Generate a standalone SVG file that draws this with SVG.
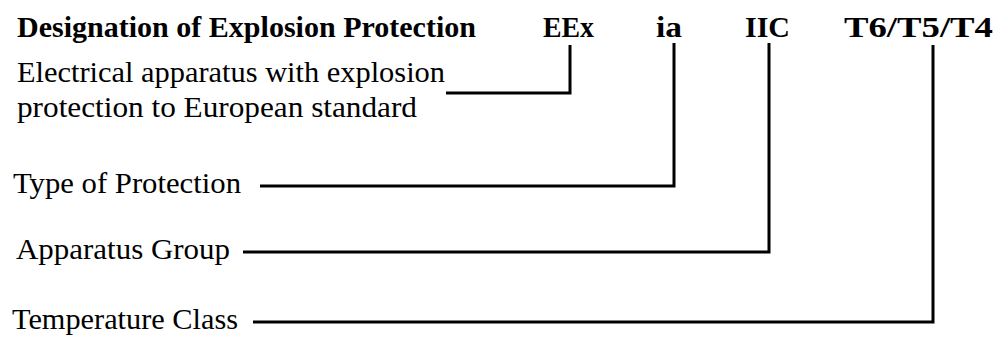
<svg xmlns="http://www.w3.org/2000/svg" width="1000" height="337" viewBox="0 0 1000 337">
<style>
.t{font-family:"Liberation Serif","Times New Roman",serif;font-size:30px;fill:#000}
.b{font-weight:bold;font-size:29px}
.c{fill:none;stroke:#000;stroke-width:3;stroke-linejoin:miter;stroke-linecap:butt}
</style>
<rect width="1000" height="337" fill="#fff"/>
<g id="header">
<text class="t b" x="17" y="37" textLength="459" lengthAdjust="spacingAndGlyphs">Designation of Explosion Protection</text>
<text class="t b" x="543" y="37" textLength="51" lengthAdjust="spacingAndGlyphs">EEx</text>
<text class="t b" x="656" y="37" textLength="26" lengthAdjust="spacingAndGlyphs">ia</text>
<text class="t b" x="745" y="37" textLength="45" lengthAdjust="spacingAndGlyphs">IIC</text>
<text class="t b" x="844" y="37" textLength="149" lengthAdjust="spacingAndGlyphs">T6/T5/T4</text>
</g>
<g id="eex-label">
<text class="t" x="17" y="82" textLength="428" lengthAdjust="spacingAndGlyphs">Electrical apparatus with explosion</text>
<text class="t" x="17" y="117" textLength="400" lengthAdjust="spacingAndGlyphs">protection to European standard</text>
</g>
<g id="type-label"><text class="t" x="13" y="193" textLength="228" lengthAdjust="spacingAndGlyphs">Type of Protection</text></g>
<g id="group-label"><text class="t" x="16" y="259" textLength="214" lengthAdjust="spacingAndGlyphs">Apparatus Group</text></g>
<g id="temp-label"><text class="t" x="12" y="329" textLength="226" lengthAdjust="spacingAndGlyphs">Temperature Class</text></g>
<g id="connectors">
<path class="c" d="M446,93 H570 V45"/>
<path class="c" d="M260,186 H674 V43"/>
<path class="c" d="M243,252 H769 V43"/>
<path class="c" d="M253,322 H933 V45"/>
</g>
</svg>
